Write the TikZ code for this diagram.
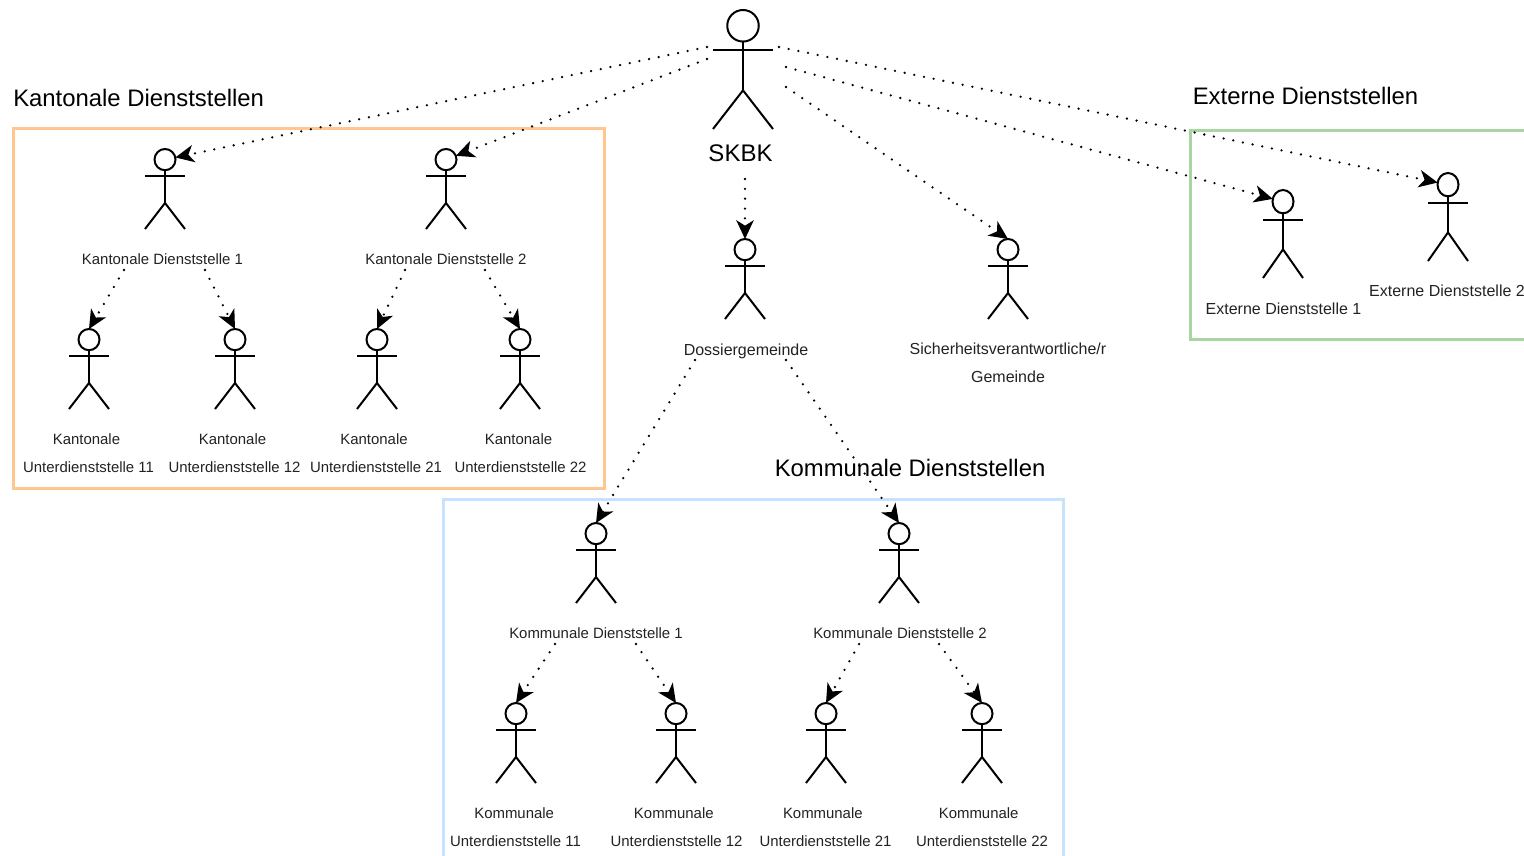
\documentclass[tikz,border=0pt]{standalone}
\usepackage{fontspec}
\setmainfont{Liberation Sans}
\usetikzlibrary{arrows.meta,shapes.geometric}
\definecolor{orangebox}{HTML}{FFC78F}
\definecolor{greenbox}{HTML}{A8D5A2}
\definecolor{bluebox}{HTML}{C6E2FF}
\definecolor{ink}{HTML}{222222}
\tikzset{
  limb/.style={draw=black,line width=1.5pt},
  headshape/.style={ellipse,draw=black,line width=1.5pt,inner sep=0pt,outer sep=0pt},
  dotlink/.style={draw=black,line width=1.9pt,line cap=round,dash pattern=on 0pt off 7.4pt,
    -{Stealth[length=14pt,width=13pt,inset=4pt]}},
  grouptitle/.style={anchor=west,inner sep=0pt,text=black,font=\fontsize{17.9}{20}\selectfont},
  lbl/.style={inner sep=0pt,text=ink,align=center,font=\fontsize{11.2}{20.6}\selectfont},
  lblwide/.style={lbl,font=\fontsize{12}{20.8}\selectfont},
  groupbox/.style={line width=2.25pt},
}
% name, centre x, top y, half width, height
\newcommand{\actor}[5]{%
  \pgfmathsetmacro{\hd}{#5*0.265}%
  \pgfmathsetmacro{\hw}{#4*1.05}%
  \pgfmathsetmacro{\hdpt}{\hd*0.75}%
  \pgfmathsetmacro{\hwpt}{\hw*0.75}%
  \pgfmathsetmacro{\armY}{#3+#5*0.3375}%
  \pgfmathsetmacro{\hipY}{#3+#5*0.675}%
  \pgfmathsetmacro{\footY}{#3+#5}%
  \pgfmathsetmacro{\headY}{#3+\hd/2}%
  \node[headshape,minimum width=\hwpt pt,minimum height=\hdpt pt] (#1) at (#2,\headY) {};
  \draw[limb] (#1.south) -- (#2,\hipY);
  \draw[limb] (#2-#4,\armY) -- (#2+#4,\armY);
  \draw[limb] (#2-#4,\footY) -- (#2,\hipY) -- (#2+#4,\footY);
}
\begin{document}
\begin{tikzpicture}[x=0.75pt,y=-0.75pt]
\useasboundingbox (0,0) rectangle (1524,856);
% group frames
\draw[groupbox,draw=orangebox] (13,128.5) rectangle (604.5,488.5);
\draw[groupbox,draw=greenbox] (1524,130.5) -- (1190.5,130.5) -- (1190.5,339) -- (1524,339);
\draw[groupbox,draw=bluebox] (443.5,856) -- (443.5,499.5) -- (1063.5,499.5) -- (1063.5,856);
% titles
\node[grouptitle] (tK) at (13,98) {Kantonale Dienststellen};
\node[grouptitle] (tE) at (1192.5,96) {Externe Dienststellen};
\node[grouptitle] (tG) at (774.5,468) {Kommunale Dienststellen};
% actors
\actor{root}{743}{10}{30}{119}
\actor{ka}{165}{149}{20}{80}
\actor{kb}{446}{149}{20}{80}
\actor{kaa}{89}{329}{20}{80}
\actor{kab}{235}{329}{20}{80}
\actor{kba}{377}{329}{20}{80}
\actor{kbb}{520}{329}{20}{80}
\actor{doss}{745}{239}{20}{80}
\actor{sich}{1008}{239}{20}{80}
\actor{ea}{1283}{190}{20}{88}
\actor{eb}{1448}{173}{20}{88}
\actor{ga}{596}{523}{20}{80}
\actor{gb}{899}{523}{20}{80}
\actor{gaa}{516}{703}{20}{80}
\actor{gab}{676}{703}{20}{80}
\actor{gba}{826}{703}{20}{80}
\actor{gbb}{982}{703}{20}{80}
% labels
\node[inner sep=0pt,text=black,font=\fontsize{18}{20}\selectfont] (lroot) at (740.5,153.5) {SKBK};
\node[lbl] (lka) at (162.5,259) {Kantonale Dienststelle 1};
\node[lbl] (lkb) at (446,259) {Kantonale Dienststelle 2};
\node[lbl] (lkaa) at (88.5,453) {Kantonale\kern3pt\\Unterdienststelle 11};
\node[lbl] (lkab) at (234.5,453) {Kantonale\kern3pt\\Unterdienststelle 12};
\node[lbl] (lkba) at (376,453) {Kantonale\kern3pt\\Unterdienststelle 21};
\node[lbl] (lkbb) at (520.5,453) {Kantonale\kern3pt\\Unterdienststelle 22};
\node[lblwide] (ldoss) at (746,351) {Dossiergemeinde};
\node[lblwide] (lsich) at (1008,363) {Sicherheitsverantwortliche/r\\Gemeinde};
\node[lblwide] (lea) at (1283.5,309) {Externe Dienststelle 1};
\node[lblwide] (leb) at (1447,291) {Externe Dienststelle 2};
\node[lbl] (lga) at (596,633) {Kommunale Dienststelle 1};
\node[lbl] (lgb) at (900,633) {Kommunale Dienststelle 2};
\node[lbl] (lgaa) at (515.5,827) {Kommunale\kern2pt\\Unterdienststelle 11};
\node[lbl] (lgab) at (676.5,827) {Kommunale\kern4pt\\Unterdienststelle 12};
\node[lbl] (lgba) at (825.5,827) {Kommunale\kern4pt\\Unterdienststelle 21};
\node[lbl] (lgbb) at (982,827) {Kommunale\kern5pt\\Unterdienststelle 22};
% free connector ends
\coordinate (r1) at (707,47);
\coordinate (r2) at (707,59);
\coordinate (r3) at (779,47);
\coordinate (r4) at (786,67);
\coordinate (r5) at (786,87);
\coordinate (s0) at (745,179);
\coordinate (d1) at (695,360);
\coordinate (d2) at (786,360);
\coordinate (a1) at (124,270);
\coordinate (a2) at (205,270);
\coordinate (b1) at (405,270);
\coordinate (b2) at (485,270);
\coordinate (g1) at (555,644);
\coordinate (g2) at (636,644);
\coordinate (h1) at (859,644);
\coordinate (h2) at (939,644);
% connectors
\draw[dotlink] (r1) -- (ka);
\draw[dotlink] (r2) -- (kb);
\draw[dotlink] (r3) -- (eb);
\draw[dotlink] (r4) -- (ea);
\draw[dotlink] (r5) -- (sich.north);
\draw[dotlink] (s0) -- (doss.north);
\draw[dotlink] (d1) -- (ga.north);
\draw[dotlink] (d2) -- (gb.north);
\draw[dotlink] (a1) -- (kaa.north);
\draw[dotlink] (a2) -- (kab.north);
\draw[dotlink] (b1) -- (kba.north);
\draw[dotlink] (b2) -- (kbb.north);
\draw[dotlink] (g1) -- (gaa.north);
\draw[dotlink] (g2) -- (gab.north);
\draw[dotlink] (h1) -- (gba.north);
\draw[dotlink] (h2) -- (gbb.north);
\end{tikzpicture}
\end{document}
